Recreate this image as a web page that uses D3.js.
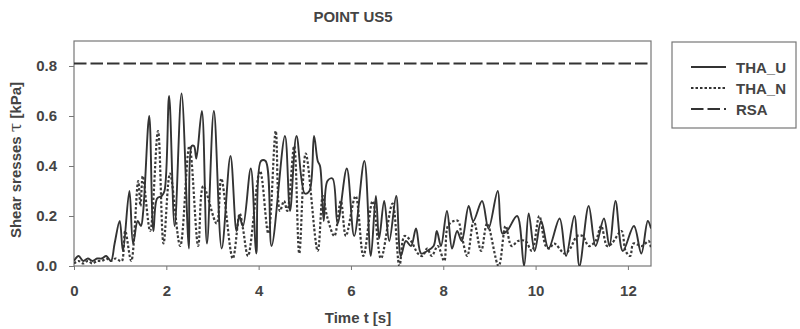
<!DOCTYPE html>
<html><head><meta charset="utf-8">
<script src="https://cdn.jsdelivr.net/npm/d3@7"></script>
<style>
body{margin:0;background:#fff;}
text{font-family:"Liberation Sans",Arial,sans-serif;font-weight:bold;fill:#444;}
</style></head>
<body>
<svg id="c" width="800" height="329"></svg>
<script>
const title = "POINT US5";
const xLabel = "Time t [s]";
const xTicks = [0, 2, 4, 6, 8, 10, 12];
const yTicks = [0.0, 0.2, 0.4, 0.6, 0.8];
const seriesNames = ["THA_U", "THA_N", "RSA"];
const rsaValue = 0.81;

const thaU_t = [0,0.1,0.2,0.3,0.4,0.5,0.6,0.7,0.8,0.88,0.99,1.06,1.2,1.28,1.38,1.45,1.5,1.63,1.72,1.8,1.9,1.96,
 2.06,2.18,2.33,2.49,2.55,2.6,2.65,2.77,2.88,3.03,3.2,3.39,3.52,3.58,3.66,3.83,3.95,4.05,4.15,4.28,4.57,4.68,4.82,
 5.0,5.1,5.2,5.28,5.33,5.41,5.49,5.6,5.71,5.91,6.07,6.29,6.43,6.54,6.61,6.72,6.83,6.98,7.08,7.19,7.3,7.41,7.52,7.65,7.79,7.86,7.95,
 8.08,8.19,8.3,8.4,8.55,8.65,8.84,8.98,9.18,9.28,9.38,9.6,9.75,9.85,9.98,10.12,10.28,10.52,10.66,10.84,10.95,11.15,11.3,11.48,11.6,11.73,11.89,12.13,12.29,12.43,12.5];
const thaU_v = [0.02,0.04,0.02,0.03,0.02,0.03,0.03,0.04,0.02,0.09,0.18,0.06,0.30,0.09,0.18,0.16,0.22,0.60,0.14,0.27,0.28,0.30,
 0.68,0.16,0.69,0.07,0.48,0.48,0.43,0.62,0.09,0.62,0.07,0.44,0.14,0.20,0.16,0.39,0.05,0.42,0.42,0.08,0.52,0.22,0.52,
 0.29,0.30,0.52,0.42,0.40,0.18,0.34,0.35,0.17,0.39,0.12,0.42,0.04,0.28,0.11,0.26,0.10,0.28,0.04,0.10,0.08,0.15,0.05,0.06,0.08,0.14,0.08,
 0.22,0.07,0.14,0.10,0.24,0.18,0.26,0.15,0.30,0.13,0.14,0.20,0.00,0.21,0.06,0.18,0.07,0.19,0.04,0.20,0.00,0.24,0.08,0.19,0.08,0.26,0.06,0.16,0.05,0.18,0.15];

const thaN_t = [0,0.1,0.2,0.3,0.4,0.5,0.6,0.7,0.8,0.9,1.0,1.04,1.11,1.24,1.39,1.44,1.49,1.65,1.82,1.94,
 2.08,2.30,2.50,2.69,2.80,3.09,3.19,3.44,3.59,3.66,3.77,4.03,4.21,4.37,4.46,4.55,4.62,4.77,4.88,
 5.02,5.28,5.39,5.48,5.64,5.78,5.89,6.10,6.27,6.47,6.65,6.90,7.05,7.16,7.3,7.45,7.55,7.65,7.75,7.88,
 8.02,8.1,8.23,8.32,8.40,8.52,8.66,8.82,8.95,9.20,9.35,9.48,9.62,9.78,9.92,10.08,10.22,10.30,10.4,10.63,10.75,10.9,
 11.02,11.15,11.3,11.42,11.55,11.65,11.86,11.95,12.05,12.12,12.3,12.45,12.5];
const thaN_v = [0.01,0.02,0.01,0.02,0.01,0.02,0.02,0.03,0.02,0.03,0.02,0.02,0.14,0.02,0.34,0.24,0.36,0.14,0.54,0.09,
 0.37,0.08,0.48,0.08,0.32,0.17,0.35,0.03,0.21,0.15,0.04,0.38,0.13,0.54,0.22,0.26,0.22,0.48,0.05,
 0.45,0.06,0.28,0.20,0.12,0.26,0.12,0.28,0.04,0.26,0.03,0.25,0.00,0.12,0.10,0.05,0.04,0.07,0.04,0.08,
 0.02,0.16,0.18,0.18,0.12,0.04,0.18,0.06,0.17,0.00,0.16,0.08,0.10,0.10,0.06,0.20,0.08,0.07,0.09,0.05,0.07,0.12,
 0.12,0.08,0.10,0.16,0.08,0.09,0.14,0.06,0.04,0.09,0.08,0.10,0.07];

const FS = 15;
const svg = d3.select("#c");
const L = 74, R = 651, T = 41, B = 266;
const x = d3.scaleLinear().domain([0, 12.5]).range([L, R]);
const y = d3.scaleLinear().domain([0, 0.9]).range([B, T]);

svg.append("defs").append("clipPath").attr("id","clip")
  .append("rect").attr("x", L).attr("y", T).attr("width", R-L).attr("height", B-T);

// title
svg.append("text").attr("x", 353).attr("y", 22).attr("text-anchor","middle")
  .attr("font-size", FS).text(title);

// axes
const xAxis = svg.append("g").attr("transform", `translate(0,${B})`)
  .call(d3.axisBottom(x).tickValues(xTicks).tickSize(4).tickPadding(15).tickFormat(d3.format("d")));
const yAxis = svg.append("g").attr("transform", `translate(${L},0)`)
  .call(d3.axisLeft(y).tickValues(yTicks).tickSize(5).tickPadding(12).tickFormat(d3.format(".1f")));
[xAxis, yAxis].forEach(g => {
  g.select(".domain").remove();
  g.selectAll("line").attr("stroke", "#777");
  g.selectAll("text").attr("font-size", FS).attr("fill", "#444")
    .style("font-family", '"Liberation Sans",Arial,sans-serif').style("font-weight","bold");
});

// plot frame
svg.append("rect").attr("x", L).attr("y", T).attr("width", R-L).attr("height", B-T)
  .attr("fill", "none").attr("stroke", "#777").attr("stroke-width", 1.2);

const line = d3.line().x(d => x(d[0])).y(d => y(d[1])).curve(d3.curveCatmullRom.alpha(0.5));
const zip = (a, b) => a.slice(0, Math.min(a.length, b.length)).map((t, i) => [t, b[i]]);

const plot = svg.append("g").attr("clip-path", "url(#clip)");
plot.append("path").datum(zip(thaN_t, thaN_v)).attr("d", line)
  .attr("fill","none").attr("stroke","#3a3a3a").attr("stroke-width",2.2).attr("stroke-dasharray","2.5,2");
plot.append("path").datum(zip(thaU_t, thaU_v)).attr("d", line)
  .attr("fill","none").attr("stroke","#333").attr("stroke-width",1.9);
plot.append("path").datum([[0, rsaValue],[12.5, rsaValue]]).attr("d", d3.line().x(d=>x(d[0])).y(d=>y(d[1])))
  .attr("fill","none").attr("stroke","#333").attr("stroke-width",1.9).attr("stroke-dasharray","12.5,4");

// axis labels
svg.append("text").attr("x", 358).attr("y", 323).attr("text-anchor","middle")
  .attr("font-size", FS).text(xLabel);
const yl = svg.append("text").attr("transform", `translate(21,160) rotate(-90)`)
  .attr("text-anchor","middle").attr("font-size", FS);
yl.append("tspan").text("Shear sresses ");
yl.append("tspan").style("font-family",'"DejaVu Serif",serif').style("font-weight","normal").attr("font-size",17).text("τ");
yl.append("tspan").text(" [kPa]");

// legend
const lg = svg.append("g");
lg.append("rect").attr("x", 672).attr("y", 42).attr("width", 124).attr("height", 86)
  .attr("fill","none").attr("stroke","#777").attr("stroke-width",1.2);
const dashes = [null, "2.5,2", "12.5,4"];
const widths = [1.9, 2.2, 1.9];
seriesNames.forEach((n, i) => {
  const yy = 67 + i * 21;
  lg.append("line").attr("x1", 691).attr("x2", 726).attr("y1", yy).attr("y2", yy)
    .attr("stroke","#333").attr("stroke-width", widths[i]).attr("stroke-dasharray", dashes[i]);
  lg.append("text").attr("x", 736).attr("y", yy + 5.5).attr("font-size", FS).text(n);
});
</script>
</body></html>
